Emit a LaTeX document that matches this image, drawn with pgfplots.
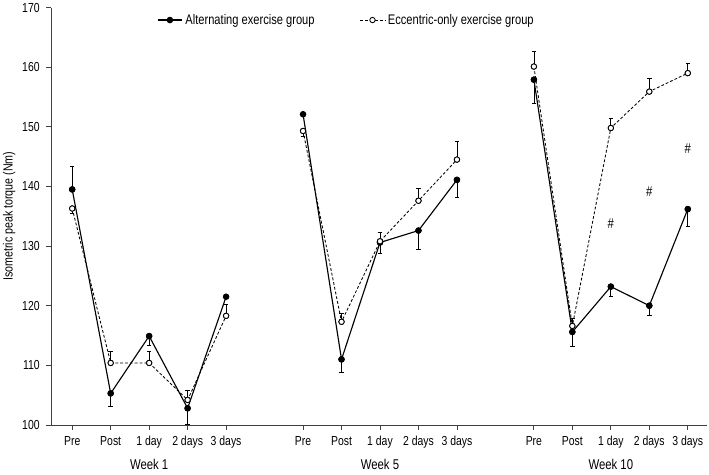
\documentclass[border=0pt]{standalone}
\usepackage{fontspec}
\setmainfont{Liberation Sans}[FakeStretch=0.8]
\usepackage{pgfplots}
\pgfplotsset{compat=1.18}
\usepackage{pgfplotstable}

% x: 0-4 week 1, 6-10 week 5, 12-16 week 10; nan breaks the lines
\pgfplotstableread{
x   alt    ecc
0   139.5  136.3
1   105.3  110.4
2   114.9  110.4
3   102.8  104.2
4   121.5  118.3
5   nan    nan
6   152.1  149.3
7   111.0  117.3
8   130.6  130.8
9   132.6  137.6
10  141.1  144.5
11  nan    nan
12  157.9  160.1
13  115.6  116.6
14  123.2  149.8
15  120.0  155.9
16  136.2  159.0
}\torque

\begin{document}
\begin{tikzpicture}
\begin{axis}[
    scale only axis,
    width=462.6pt, height=294.4pt,
    xmin=-0.55, xmax=16.5,
    ymin=100, ymax=170,
    axis lines=left,
    axis line style={-, black!75, line width=0.6pt},
    tick style={black!75, line width=0.6pt},
    tick align=outside,
    major tick length=3.5pt,
    ytick={100,110,...,170},
    xtick={0,1,2,3,4,6,7,8,9,10,12,13,14,15,16},
    xticklabels={Pre,Post,1 day,2 days,3 days,Pre,Post,1 day,2 days,3 days,Pre,Post,1 day,2 days,3 days},
    /pgf/number format/assume math mode=true,
    ticklabel style={font=\fontsize{9.2}{10}\selectfont},
    yticklabel style={xshift=-1pt},
    xticklabel style={yshift=-1pt},
    ylabel={Isometric peak torque (Nm)},
    ylabel style={font=\fontsize{9.4}{10}\selectfont, yshift=-2pt},
    unbounded coords=jump,
    clip=false,
    legend columns=2,
    legend cell align=left,
    legend style={draw=none, fill=none, at={(rel axis cs:0.155,0.97)}, anchor=west,
        font=\fontsize{9.8}{11}\selectfont,
        /tikz/every even column/.append style={column sep=30pt}},
    error bars/error bar style={black, line width=0.5pt, solid},
    error bars/error mark options={rotate=90, mark size=1.6pt, line width=0.5pt},
]
% error bars first, one direction each, as in the figure
\addplot[forget plot, only marks, mark=none,
    error bars/.cd, y dir=minus, y explicit] coordinates {
    (1,105.3) -= (0,2.2)  (2,114.9) -= (0,1.5)  (3,102.8) -= (0,2.7)
    (7,111.0) -= (0,2.2)  (8,130.6) -= (0,1.9)  (9,132.6) -= (0,3.2)  (10,141.1) -= (0,3.0)
    (12,157.9) -= (0,3.9) (13,115.6) -= (0,2.4) (14,123.2) -= (0,1.6) (15,120.0) -= (0,1.7) (16,136.2) -= (0,2.9)
    (0,136.3) -= (0,0.8)  (6,149.3) -= (0,0.9)
};
\addplot[forget plot, only marks, mark=none,
    error bars/.cd, y dir=plus, y explicit] coordinates {
    (0,139.5) += (0,3.9)
    (1,110.4) += (0,1.9)  (2,110.4) += (0,2.0)  (3,104.2) += (0,1.6)  (4,118.3) += (0,2.0)
    (7,117.3) += (0,1.4)  (8,130.8) += (0,1.5)  (9,137.6) += (0,2.0)  (10,144.5) += (0,3.0)
    (12,160.1) += (0,2.6) (13,116.6) += (0,1.2) (14,149.8) += (0,1.6) (15,155.9) += (0,2.2) (16,159.0) += (0,1.7)
};

\addplot[black, line width=0.8pt, mark=*, mark size=1.9pt, mark options={fill=black}] table[x=x, y=alt] {\torque};
\addlegendentry{Alternating exercise group}
\addplot[black, line width=0.6pt, dash pattern=on 2pt off 1.4pt, mark=*, mark size=1.9pt,
    mark options={solid, draw=black, fill=white, line width=0.6pt}] table[x=x, y=ecc] {\torque};
\addlegendentry{Eccentric-only exercise group}

\node[font=\fontsize{10}{11}\selectfont] at (axis cs:14,133.7) {\#};
\node[font=\fontsize{10}{11}\selectfont] at (axis cs:15,139.1) {\#};
\node[font=\fontsize{10}{11}\selectfont] at (axis cs:16,146.4) {\#};

\node[font=\fontsize{10}{11}\selectfont] at ([yshift=-27.5pt]axis cs:2,100) {Week 1};
\node[font=\fontsize{10}{11}\selectfont] at ([yshift=-27.5pt]axis cs:8,100) {Week 5};
\node[font=\fontsize{10}{11}\selectfont] at ([yshift=-27.5pt]axis cs:14,100) {Week 10};

\coordinate (ll) at (rel axis cs:0,0);
\coordinate (ur) at (rel axis cs:1,1);
\end{axis}
\pgfresetboundingbox
\path ([shift={(-36pt,-34.6pt)}]ll) rectangle ([shift={(1.4pt,5.3pt)}]ur);
\end{tikzpicture}
\end{document}
